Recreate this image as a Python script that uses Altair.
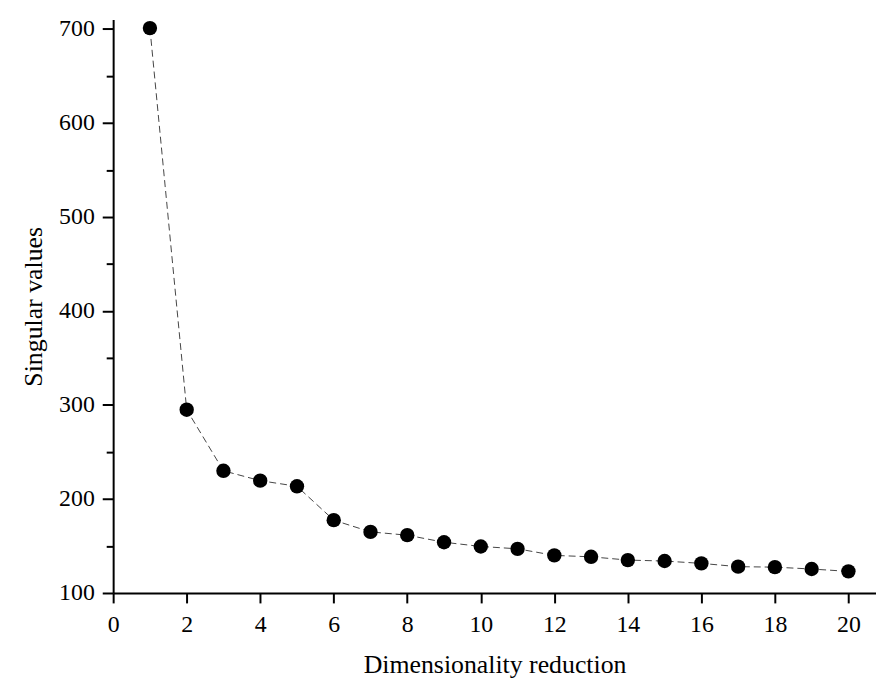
import altair as alt
import pandas as pd

dims = list(range(1, 21))
singular_values = [701, 295, 230, 219.5, 213.5, 177.5, 165, 161.5, 154, 149.5,
                   147, 140, 138.5, 135, 134, 131.5, 128, 127.5, 125.5, 123]

df = pd.DataFrame({"dim": dims, "sv": singular_values})

FONT = "Liberation Serif"

x = alt.X("dim:Q", title="Dimensionality reduction",
          scale=alt.Scale(domain=[0, 20.75], nice=False, zero=False),
          axis=alt.Axis(values=list(range(0, 21, 2)), format="d", grid=False,
                        domainWidth=2, domainColor="black", tickWidth=2, tickColor="black",
                        tickSize=10, labelFontSize=24, labelFont=FONT, labelColor="black",
                        labelPadding=10, titleFont=FONT, titleFontSize=26, titleFontWeight="normal",
                        titleColor="black", titlePadding=15, labelFlush=False))
y = alt.Y("sv:Q", title="Singular values",
          scale=alt.Scale(domain=[100, 710], nice=False, zero=False),
          axis=alt.Axis(values=list(range(100, 701, 50)), grid=False,
                        labelExpr="datum.value % 100 === 0 ? datum.label : ''",
                        tickSize={"condition": {"test": "datum.value % 100 === 0", "value": 11}, "value": 7},
                        domainWidth=2, domainColor="black", tickWidth=2, tickColor="black",
                        labelFontSize=24, labelFont=FONT, labelColor="black", labelPadding=8,
                        titleFont=FONT, titleFontSize=26, titleFontWeight="normal",
                        titleColor="black", titlePadding=12, labelFlush=False))

line = alt.Chart(df).mark_line(color="#444444", strokeWidth=1, strokeDash=[7, 4]).encode(x=x, y=y)
pts = alt.Chart(df).mark_point(filled=True, shape="circle", size=210, color="black", opacity=1).encode(x=x, y=y)

chart = (line + pts).properties(
    width=769, height=578,
    autosize=alt.AutoSizeParams(type="none"),
    padding={"left": 106, "top": 9, "right": 0, "bottom": 85},
).configure(background="white").configure_view(strokeWidth=0, stroke="transparent")

chart.save("out.html", embed_options={"renderer": "svg", "actions": False})
